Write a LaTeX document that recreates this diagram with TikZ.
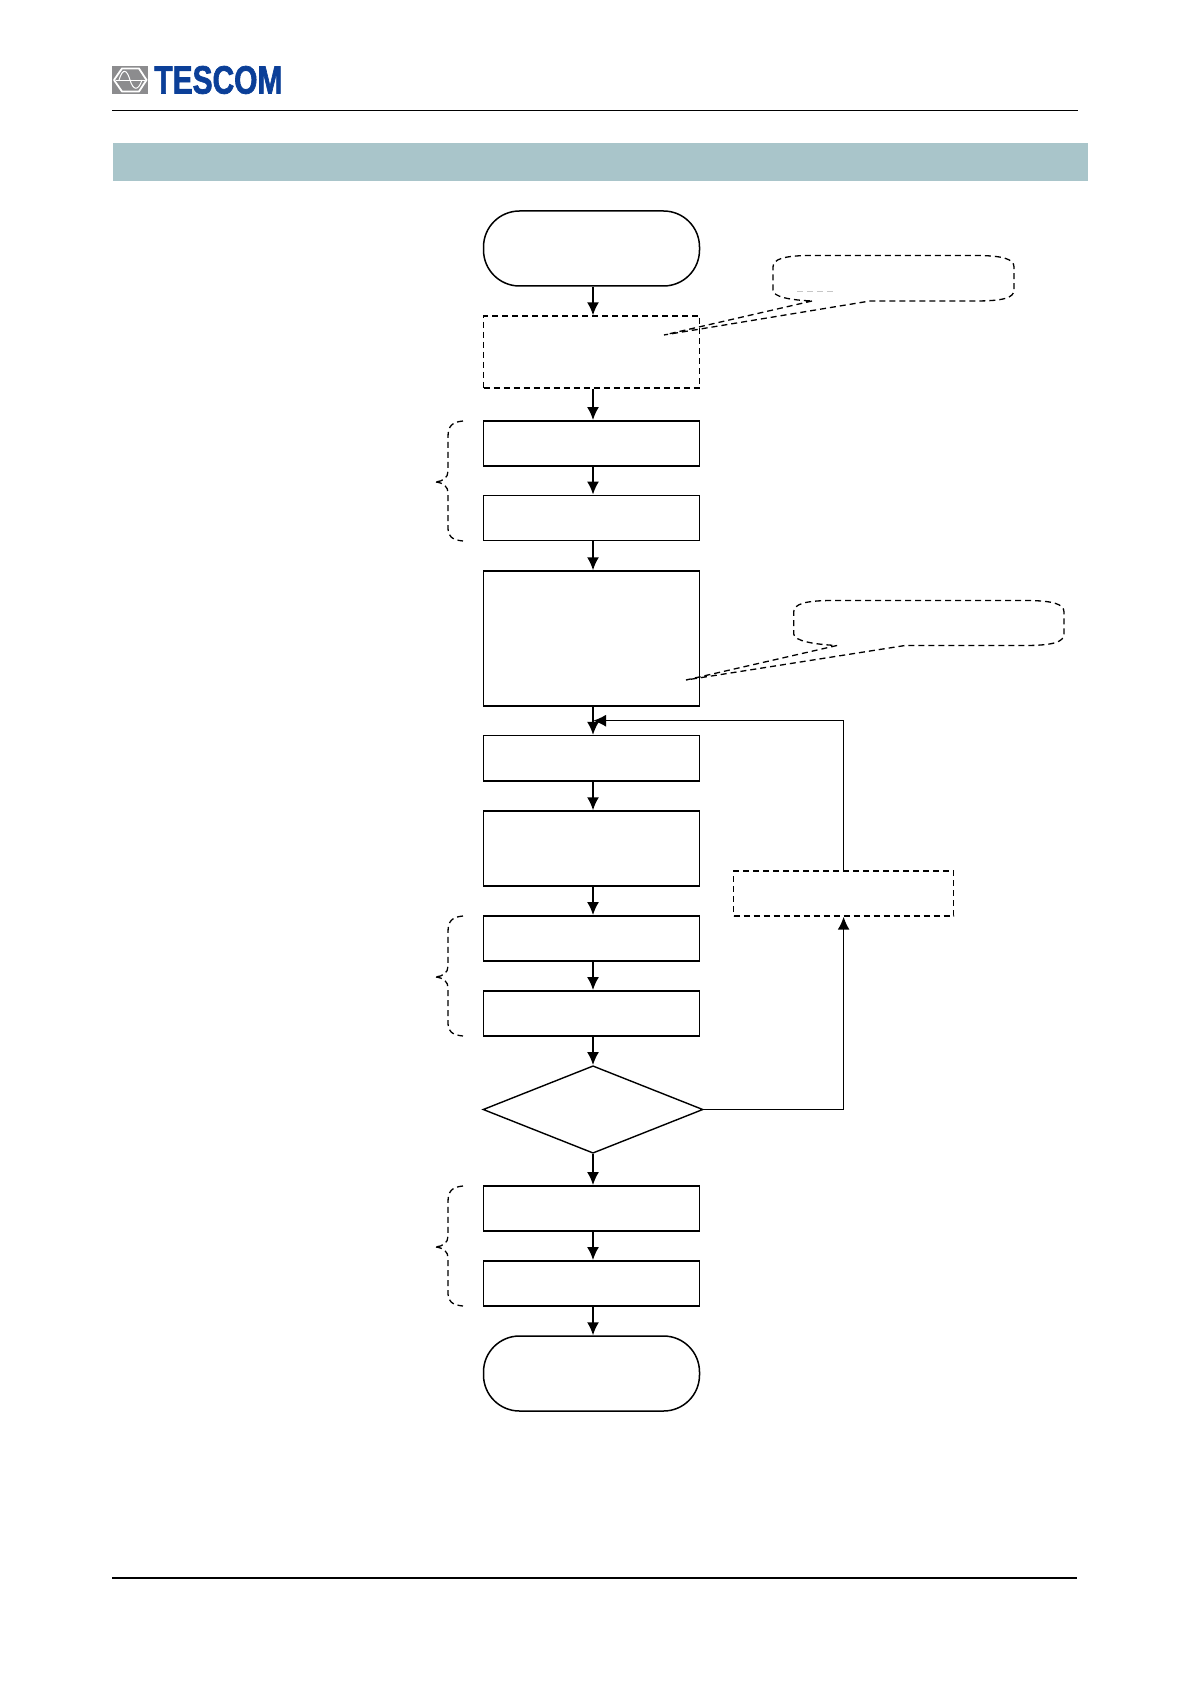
\documentclass[tikz,border=0pt]{standalone}
\usepackage{fontspec}
\setmainfont{Liberation Sans}
\newfontfamily\logofont[FakeBold=2]{Liberation Sans Bold}
\usetikzlibrary{arrows.meta,shapes.geometric}
\definecolor{band}{HTML}{A9C5CA}
\definecolor{logoblue}{HTML}{0B3F98}
\definecolor{logogray}{HTML}{8C8C8E}
\tikzset{
 x=0.5pt,y=-0.5pt,
 box/.style={draw=black,line width=0.75pt,rectangle,inner sep=0pt,minimum width=108pt,fill=white},
 dbox/.style={box,line width=0.7pt,dash pattern=on 3pt off 2pt},
 term/.style={box,rounded corners=18pt},
 dec/.style={draw=black,line width=0.7pt,diamond,aspect=2.5,inner sep=0pt,minimum width=110pt,minimum height=43.75pt},
 conn/.style={draw=black,line width=0.8pt,-{Latex[length=6.5pt,width=6pt]}},
 dline/.style={draw=black,line width=0.65pt,dash pattern=on 3pt off 2pt},
 rule/.style={draw=black,line width=0.6pt},
}
\newcommand{\linkbox}[2]{\draw[conn] ([xshift=.75pt]#1.south) -- ([xshift=.75pt]#2.north);}
\newcommand{\bracemark}[1]{%
 \draw[dline,shift={(0,#1)}] (463,0) .. controls (452,1) and (448,5) .. (448,16)
   -- (448,50) .. controls (448,57) and (443,60) .. (436,61)
   (436,61) .. controls (444,62) and (448,66) .. (448,72)
   -- (448,108) .. controls (448,115) and (452,119) .. (463,120);}
\begin{document}
\begin{tikzpicture}
\useasboundingbox (0,0) rectangle (1191,1684);
% header
\fill[logogray] (112,66) rectangle (148,94);
\draw[white,line width=0.9pt,line join=round] (114,80)--(122,68.5)--(139,68.5)--(146.5,80)--(139,91.5)--(122,91.5)--cycle;
\draw[white,line width=0.3pt] (116,80)--(145,80);
\draw[white,line width=0.5pt] (119,80) .. controls (123,67) and (127,70) .. (130,80) .. controls (133,90) and (138,92) .. (142,80);
\node[inner sep=0pt,anchor=west,text=logoblue] (brand) at (154,80) {\resizebox{64pt}{13.8pt}{\logofont TESCOM}};
\coordinate (hl) at (112,110.5); \coordinate (hr) at (1078,110.5);
\draw[rule] (hl)--(hr);
\fill[band] (113,143) rectangle (1088,181);
\coordinate (fl) at (112,1578); \coordinate (fr) at (1077,1578);
\draw[rule] (fl)--(fr);
% flow boxes
\node[term,minimum height=37.5pt] (start) at (591.5,248.5) {};
\node[dbox,minimum height=36pt] (setup) at (591.5,352) {};
\node[box,minimum height=22.7pt] (b1) at (591.5,443.5) {};
\node[box,minimum height=22.7pt] (b2) at (591.5,518) {};
\node[box,minimum height=67.5pt] (b3) at (591.5,638.5) {};
\node[box,minimum height=22.7pt] (b4) at (591.5,758.3) {};
\node[box,minimum height=37.5pt] (b5) at (591.5,848.5) {};
\node[box,minimum height=22.7pt] (b6) at (591.5,938.5) {};
\node[box,minimum height=22.7pt] (b7) at (591.5,1013.5) {};
\node[dec,minimum width=110pt] (dec) at (593,1109.5) {};
\node[box,minimum height=22.7pt] (b8) at (591.5,1208.5) {};
\node[box,minimum height=22.7pt] (b9) at (591.5,1283.5) {};
\node[term,minimum height=37.5pt] (stop) at (591.5,1373.5) {};
\node[dbox,minimum width=110pt,minimum height=22.5pt] (retry) at (843.6,893.5) {};
% connectors
\linkbox{start}{setup}
\linkbox{setup}{b1}
\linkbox{b1}{b2}
\linkbox{b2}{b3}
\linkbox{b3}{b4}
\linkbox{b4}{b5}
\linkbox{b5}{b6}
\linkbox{b6}{b7}
\draw[conn] ([xshift=.75pt]b7.south) -- (dec.north);
\draw[conn] (dec.south) -- ([xshift=.75pt]b8.north);
\linkbox{b8}{b9}
\linkbox{b9}{stop}
\coordinate (fbcorner) at (843.6,720.7);
\coordinate (fbend) at (593,720.7);
\draw[conn,line width=0.7pt] (retry.north) -- (fbcorner) -- (fbend);
\coordinate (deccorner) at (843.6,1109.5);
\draw[conn] (dec.east) -- (deccorner) -- (retry.south);
% callouts
\draw[dline] (812,301) -- (664,335) -- (870,301) -- (975,301)
  .. controls (1003,301) and (1014,298) .. (1014,290) -- (1014,267)
  .. controls (1014,259) and (1003,255.5) .. (975,255.5) -- (812,255.5)
  .. controls (784,255.5) and (773,259) .. (773,267) -- (773,290)
  .. controls (773,297) and (790,300) .. (812,301);
\draw[gray!45,line width=0.3pt,dash pattern=on 3pt off 2pt] (797,291.7) -- (835,291.7);
\draw[dline] (837,645.5) -- (686,680) -- (905,645.5) -- (1025,645.5)
  .. controls (1053,645.5) and (1064,642) .. (1064,634) -- (1064,612)
  .. controls (1064,604) and (1053,600.5) .. (1025,600.5) -- (833,600.5)
  .. controls (805,600.5) and (793.7,604) .. (793.7,612) -- (793.7,634)
  .. controls (793.7,641) and (815,644.5) .. (837,645.5);
% braces
\bracemark{421}
\bracemark{916}
\bracemark{1186}
\end{tikzpicture}
\end{document}
